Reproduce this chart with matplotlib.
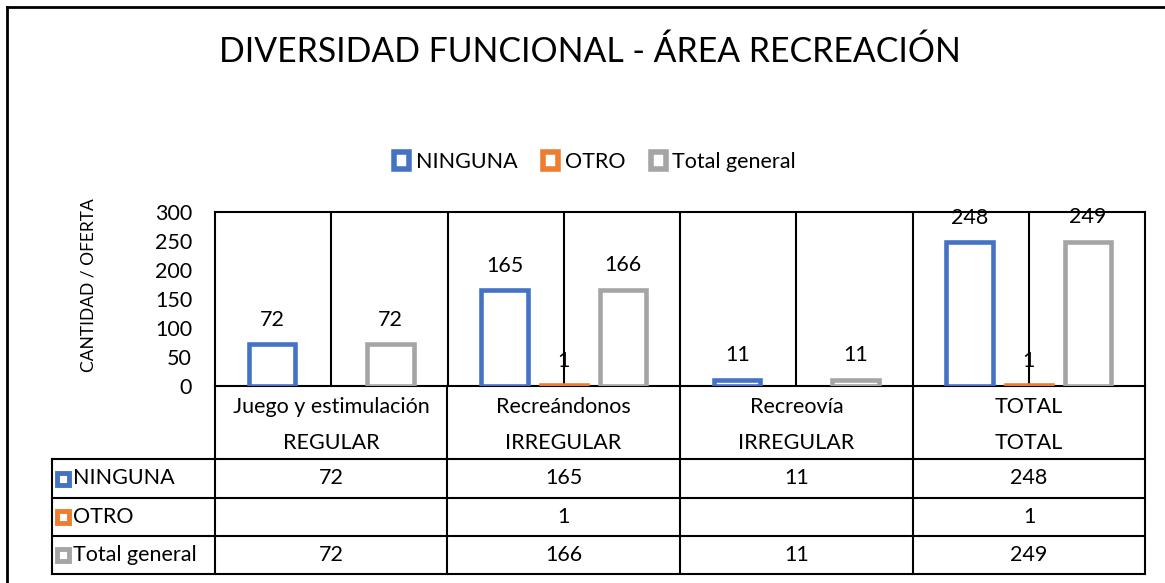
import numpy as np
import matplotlib
matplotlib.use("Agg")
import matplotlib.pyplot as plt
from matplotlib.patches import Patch, Rectangle
from matplotlib.lines import Line2D

plt.rcParams['font.family'] = ['Lato', 'DejaVu Sans']

W, H = 1165, 583

categories = ["Juego y estimulación", "Recreándonos", "Recreovía", "TOTAL"]
groups = ["REGULAR", "IRREGULAR", "IRREGULAR", "TOTAL"]
series_names = ["NINGUNA", "OTRO", "Total general"]
ninguna = [72, 165, 11, 248]
otro = [np.nan, 1, np.nan, 1]
total_general = [72, 166, 11, 249]
colors = ["#4472C4", "#ED7D31", "#A5A5A5"]

FS = 15.5


def fx(px):
    return px / W


def fy(py):
    return 1 - py / H


fig = plt.figure(figsize=(W / 100, H / 100), dpi=100)

# plot area
ax_l, ax_r, ax_t, ax_b = 215, 1145, 212, 386
ax = fig.add_axes([fx(ax_l), fy(ax_b), fx(ax_r - ax_l), (ax_b - ax_t) / H])

x = np.arange(len(categories))
width = 0.2
offsets = [-0.254, 0, 0.254]
all_series = [ninguna, otro, total_general]

for k, vals in enumerate(all_series):
    vals = np.array(vals, dtype=float)
    ax.bar(x + offsets[k], vals, width, facecolor="white", edgecolor=colors[k],
           linewidth=3.3, zorder=3)
    for xi, v in zip(x, vals):
        if not np.isnan(v):
            ax.annotate(f"{int(v)}", (xi + offsets[k], v), xytext=(0, 17.5),
                        textcoords="offset points", ha="center", va="center",
                        fontsize=FS, zorder=4)

ax.set_xlim(-0.5, len(categories) - 0.5)
ax.set_ylim(0, 300)
ax.set_yticks(range(0, 301, 50))
ax.tick_params(axis="y", length=0, labelsize=FS, pad=16.5)
ax.set_xticks([])
for s in ax.spines.values():
    s.set_color("black")
    s.set_linewidth(1.5)
# vertical gridlines at category centres and boundaries
for xi in x:
    ax.axvline(xi, color="black", lw=1.5, zorder=2)
    if xi > 0:
        ax.axvline(xi - 0.5, color="black", lw=1.5, zorder=2)

ax.set_ylabel("CANTIDAD / OFERTA", fontsize=12.5)
ax.yaxis.set_label_coords((96 - ax_l) / (ax_r - ax_l), 0.58)

# title
fig.text(fx(590), fy(52), "DIVERSIDAD FUNCIONAL - ÁREA RECREACIÓN",
         ha="center", va="center", fontsize=24.3)

# legend
handles = [Patch(facecolor="white", edgecolor=c, linewidth=4) for c in colors]
fig.legend(handles, series_names, loc="center", bbox_to_anchor=(fx(595), fy(162)),
           ncol=3, frameon=False, fontsize=FS, handlelength=0.7, handleheight=0.8,
           handletextpad=0.3, columnspacing=1.2)

# data table
col_edges = [215, 447, 680, 913, 1145]
tab_left = 52
row_edges = [459, 498, 536, 574]
lw = 1.5


def hline(y, x0, x1):
    fig.add_artist(Line2D([fx(x0), fx(x1)], [fy(y), fy(y)], color="black", lw=lw))


def vline(xp, y0, y1):
    fig.add_artist(Line2D([fx(xp), fx(xp)], [fy(y0), fy(y1)], color="black", lw=lw))


for ce in col_edges:
    vline(ce, ax_b, row_edges[-1])
vline(tab_left, row_edges[0], row_edges[-1])
for re in row_edges:
    hline(re, tab_left, col_edges[-1])

for i in range(len(categories)):
    cx = (col_edges[i] + col_edges[i + 1]) / 2
    fig.text(fx(cx), fy(407), categories[i], ha="center", va="center", fontsize=FS)
    fig.text(fx(cx), fy(443), groups[i], ha="center", va="center", fontsize=FS)

for r, (name, vals) in enumerate(zip(series_names, all_series)):
    cy = (row_edges[r] + row_edges[r + 1]) / 2
    fig.add_artist(Rectangle((fx(57), fy(cy + 6)), fx(12), 12 / H, facecolor="white",
                             edgecolor=colors[r], lw=3.5))
    fig.text(fx(73), fy(cy), name, ha="left", va="center", fontsize=FS)
    for i, v in enumerate(vals):
        if not np.isnan(v):
            cx = (col_edges[i] + col_edges[i + 1]) / 2
            fig.text(fx(cx), fy(cy), f"{int(v)}", ha="center", va="center", fontsize=FS)

# chart area border (left and top visible)
fig.add_artist(Line2D([fx(7), fx(7)], [fy(7), 0], color="black", lw=2))
fig.add_artist(Line2D([fx(7), 1], [fy(7), fy(7)], color="black", lw=2))

fig.savefig("out.png", dpi=100)
